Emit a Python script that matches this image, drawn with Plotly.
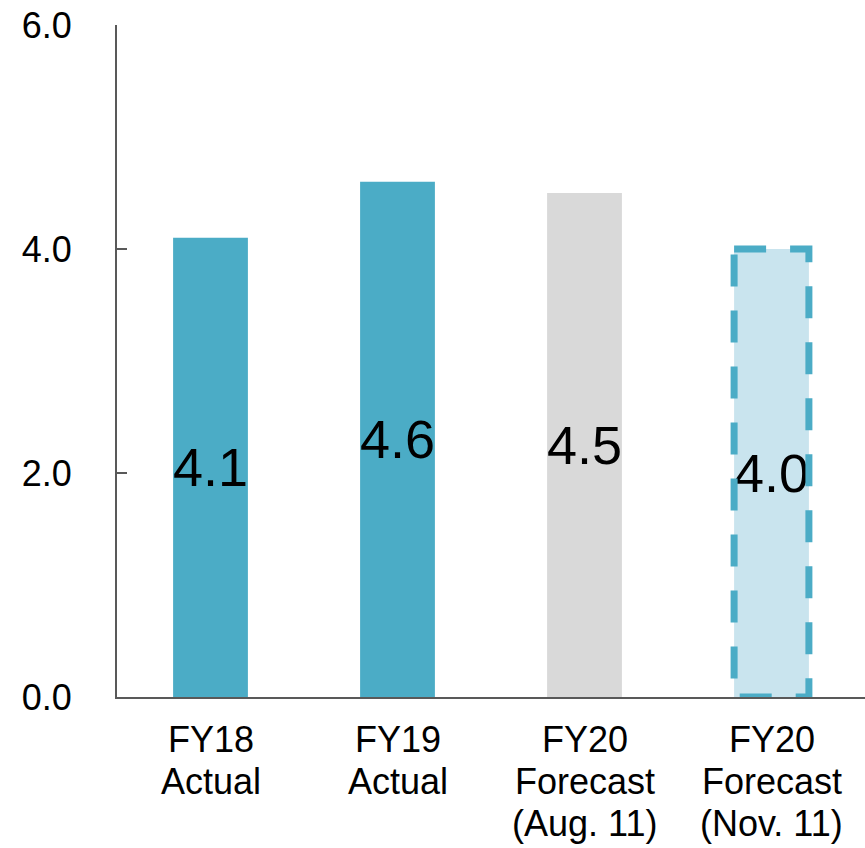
import plotly.graph_objects as go

# Chart data
categories = ["FY18 Actual", "FY19 Actual", "FY20 Forecast (Aug. 11)", "FY20 Forecast (Nov. 11)"]
category_lines = [
    ["FY18", "Actual"],
    ["FY19", "Actual"],
    ["FY20", "Forecast", "(Aug. 11)"],
    ["FY20", "Forecast", "(Nov. 11)"],
]
values = [4.1, 4.6, 4.5, 4.0]
bar_colors = ["#4BACC6", "#4BACC6", "#D9D9D9", "#C9E4EE"]
y_ticks = [0, 2, 4, 6]

FONT = "Arial, Liberation Sans, sans-serif"
AXIS_COLOR = "#595959"
BAR_WIDTH = 0.4

fig = go.Figure()
fig.add_trace(go.Bar(
    x=categories,
    y=values,
    width=BAR_WIDTH,
    marker=dict(color=bar_colors, line=dict(width=0)),
    text=[f"{v:.1f}" for v in values],
    textposition="inside",
    insidetextanchor="middle",
    textangle=0,
    constraintext="none",
    textfont=dict(family=FONT, size=54, color="black"),
    hoverinfo="skip",
))

# Dashed outline around the latest forecast bar
last = len(values) - 1
fig.add_shape(
    type="rect", xref="x", yref="y",
    x0=last - BAR_WIDTH / 2, x1=last + BAR_WIDTH / 2,
    y0=values[last], y1=0,
    line=dict(color="#4BACC6", width=7, dash="32px,24px"),
    fillcolor="rgba(0,0,0,0)",
    layer="above",
)

# Multi-line category labels under the axis
annotations = []
for i, lines in enumerate(category_lines):
    for j, line in enumerate(lines):
        annotations.append(dict(
            x=categories[i], y=0, xref="x", yref="paper",
            text=line, showarrow=False,
            xanchor="center", yanchor="top",
            yshift=-20 - 42 * j,
            font=dict(family=FONT, size=36, color="black"),
        ))

fig.update_layout(
    width=865, height=848,
    margin=dict(l=117, r=0, t=25, b=151),
    paper_bgcolor="white", plot_bgcolor="white",
    showlegend=False,
    annotations=annotations,
    xaxis=dict(
        type="category",
        range=[-0.5, 3.5],
        showticklabels=False,
        ticks="",
        showline=True, linecolor=AXIS_COLOR, linewidth=2,
        showgrid=False, zeroline=False,
    ),
    yaxis=dict(
        range=[0, 6],
        tickvals=y_ticks,
        tickformat=".1f",
        ticks="inside", ticklen=10, tickwidth=2, tickcolor=AXIS_COLOR,
        ticklabelstandoff=36,
        showline=True, linecolor=AXIS_COLOR, linewidth=2,
        showgrid=False, zeroline=False,
        tickfont=dict(family=FONT, size=36, color="black"),
    ),
)

fig.write_html("out.html")
